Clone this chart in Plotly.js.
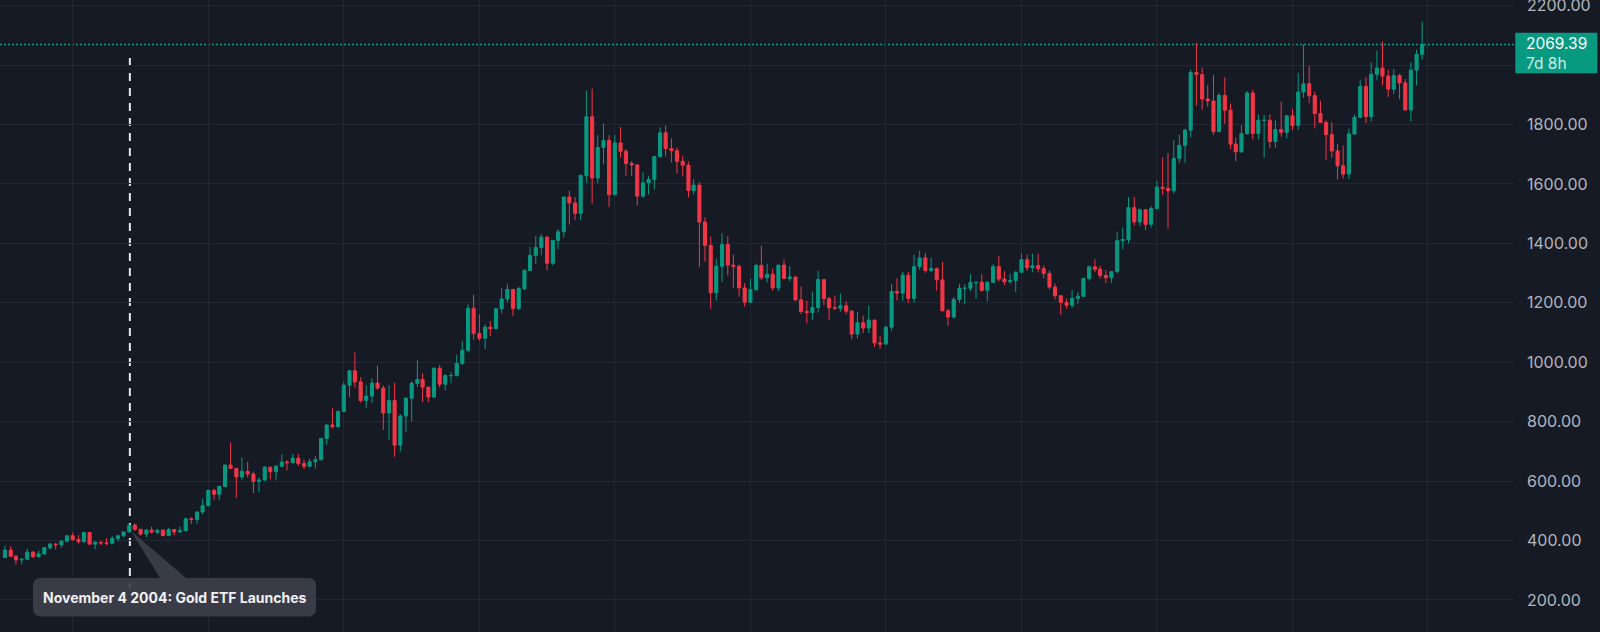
<!DOCTYPE html>
<html>
<head>
<meta charset="utf-8">
<script src="https://cdn.plot.ly/plotly-3.0.1.min.js"></script>
<style>
  html, body { margin: 0; padding: 0; background: #161A25; }
  #chart { width: 1600px; height: 632px; }
</style>
</head>
<body>
<div id="chart"></div>
<script>
// Gold (XAUUSD) monthly candles, Jan 2003 - Dec 2023
const years = [2003,2004,2005,2006,2007,2008,2009,2010,2011,2012,2013,2014,2015,2016,2017,2018,2019,2020,2021,2022,2023];

const opens = [
  343,368,347,335,337,361,346,355,376,388,386,398,
  416,403,397,427,388,394,392,391,407,416,429,452,
  438,422,435,428,435,417,437,429,433,473,471,496,
  517,569,556,582,654,643,614,633,624,599,604,647,
  632,650,664,662,677,659,650,665,672,743,789,783,
  834,923,971,934,871,886,930,913,829,871,721,819,
  879,929,942,916,883,980,926,955,955,996,1040,1182,
  1097,1081,1118,1113,1180,1213,1245,1181,1248,1309,1359,1386,
  1421,1333,1410,1439,1556,1536,1501,1628,1826,1620,1723,1746,
  1564,1738,1710,1669,1664,1559,1604,1615,1692,1772,1719,1712,
  1676,1663,1578,1596,1472,1393,1234,1323,1396,1327,1323,1250,
  1202,1244,1326,1284,1296,1250,1327,1282,1287,1210,1171,1167,
  1184,1278,1214,1183,1182,1190,1172,1095,1133,1115,1142,1065,
  1061,1118,1238,1233,1293,1215,1322,1351,1309,1316,1277,1173,
  1152,1211,1249,1249,1268,1269,1242,1269,1322,1280,1271,1275,
  1303,1345,1318,1325,1315,1299,1253,1224,1201,1192,1215,1222,
  1282,1321,1313,1292,1284,1305,1409,1413,1520,1472,1513,1464,
  1517,1589,1585,1577,1686,1730,1781,1975,1968,1886,1879,1776,
  1898,1848,1734,1708,1769,1906,1770,1814,1814,1743,1783,1774,
  1829,1797,1909,1937,1897,1837,1807,1766,1711,1661,1633,1768,
  1824,1928,1827,1969,1990,1963,1919,1965,1940,1849,1983,2036
];

const highs = [
  383,382,352,341,372,365,366,377,392,392,400,417,
  427,418,430,428,398,398,408,415,420,430,456,457,
  439,439,446,438,437,443,438,447,477,479,498,541,
  569,574,585,655,730,644,679,665,632,612,650,647,
  654,690,670,692,691,672,675,684,745,790,845,839,
  934,975,1033,950,923,945,988,922,923,931,825,882,
  936,1007,963,918,982,990,960,967,1025,1072,1195,1227,
  1162,1127,1139,1181,1249,1265,1246,1254,1313,1388,1425,1432,
  1424,1412,1448,1557,1577,1556,1632,1913,1921,1764,1803,1764,
  1764,1791,1718,1677,1667,1640,1628,1693,1790,1796,1754,1723,
  1694,1676,1617,1606,1488,1423,1348,1434,1424,1362,1328,1267,
  1280,1332,1392,1332,1315,1325,1345,1323,1287,1255,1208,1238,
  1307,1280,1220,1224,1232,1205,1176,1170,1157,1191,1142,1088,
  1123,1263,1283,1304,1304,1362,1375,1367,1352,1319,1338,1180,
  1220,1264,1262,1296,1270,1296,1271,1330,1357,1306,1299,1306,
  1366,1362,1366,1365,1326,1309,1265,1225,1214,1243,1237,1284,
  1326,1347,1324,1310,1306,1439,1453,1555,1557,1517,1515,1525,
  1611,1689,1704,1748,1765,1786,1984,2075,1992,1933,1966,1906,
  1959,1871,1755,1798,1913,1917,1834,1832,1834,1814,1877,1831,
  1853,1974,2070,1998,1910,1880,1814,1808,1735,1730,1786,1833,
  1949,1959,2009,2048,2079,1984,1987,1970,1953,2009,2052,2146
];

const lows = [
  342,345,320,319,336,341,342,353,370,370,376,393,
  399,390,391,386,371,385,385,387,398,411,427,432,
  416,412,424,421,414,414,418,428,432,456,456,489,
  516,538,535,580,640,543,605,612,560,562,600,607,
  603,647,636,661,651,640,648,642,670,723,777,780,
  834,883,915,864,846,863,908,772,738,682,700,765,
  801,916,866,866,879,915,905,930,952,992,1033,1075,
  1072,1044,1088,1112,1165,1201,1155,1175,1242,1307,1331,1360,
  1309,1326,1381,1419,1463,1479,1478,1604,1534,1602,1666,1522,
  1563,1689,1628,1627,1527,1553,1565,1582,1690,1692,1673,1635,
  1626,1555,1565,1321,1338,1180,1208,1270,1292,1251,1221,1187,
  1200,1241,1277,1268,1241,1240,1281,1272,1206,1161,1131,1142,
  1167,1191,1142,1175,1170,1162,1077,1080,1098,1098,1052,1046,
  1061,1106,1208,1207,1200,1200,1310,1301,1302,1241,1171,1123,
  1147,1200,1195,1240,1214,1237,1205,1267,1271,1260,1264,1236,
  1302,1307,1303,1302,1282,1245,1211,1160,1180,1183,1196,1221,
  1275,1303,1281,1266,1267,1300,1381,1400,1459,1458,1445,1453,
  1517,1563,1451,1568,1670,1671,1757,1863,1849,1860,1765,1775,
  1802,1717,1677,1705,1766,1750,1750,1688,1721,1721,1759,1753,
  1781,1781,1890,1872,1787,1805,1681,1688,1615,1618,1616,1765,
  1823,1804,1810,1949,1932,1893,1903,1885,1847,1810,1931,2017
];

const closes = [
  368,347,335,337,361,346,355,376,388,386,398,416,
  403,397,427,388,394,392,391,407,416,429,452,438,
  422,435,428,435,417,437,429,433,473,471,496,517,
  569,556,582,654,643,614,633,624,599,604,647,632,
  650,664,662,677,659,650,665,672,743,789,783,834,
  923,971,934,871,886,930,913,829,871,721,819,879,
  929,942,916,883,980,926,955,955,996,1040,1182,1097,
  1081,1118,1113,1180,1213,1245,1181,1248,1309,1359,1386,1421,
  1333,1410,1439,1556,1536,1501,1628,1826,1620,1723,1746,1564,
  1738,1710,1669,1664,1559,1604,1615,1692,1772,1719,1712,1676,
  1663,1578,1596,1472,1393,1234,1323,1396,1327,1323,1250,1202,
  1244,1326,1284,1296,1250,1327,1282,1287,1210,1171,1167,1184,
  1278,1214,1183,1182,1190,1172,1095,1133,1115,1142,1065,1061,
  1118,1238,1233,1293,1215,1322,1351,1309,1316,1277,1173,1152,
  1211,1249,1249,1268,1269,1242,1269,1322,1280,1271,1275,1303,
  1345,1318,1325,1315,1299,1253,1224,1201,1192,1215,1222,1282,
  1321,1313,1292,1284,1305,1409,1413,1520,1472,1513,1464,1517,
  1589,1585,1577,1686,1730,1781,1975,1968,1886,1879,1776,1898,
  1848,1734,1708,1769,1906,1770,1814,1814,1743,1783,1774,1829,
  1797,1909,1937,1897,1837,1807,1766,1711,1661,1633,1768,1824,
  1928,1827,1969,1990,1963,1919,1965,1940,1849,1983,2036,2069.39
];

// price-axis grid levels; the 2000 label sits under the last-price tag, so it is not shown
const priceLevels = [200,400,600,800,1000,1200,1400,1600,1800,2000,2200];
const hiddenLevel = 2000;

const monthNums = ['01','02','03','04','05','06','07','08','09','10','11','12'];
const months = [];
years.forEach(y => monthNums.forEach(m => months.push(y + '-' + m + '-01')));

const etfDate = '2004-11-04';
const etfLabel = 'November 4 2004: Gold ETF Launches';
const countdown = '7d 8h';
const lastPrice = closes[closes.length - 1];

const W = 1600, H = 632, R = 86;
const PW = W - R;
const px = x => x / PW;
const py = y => 1 - y / H;
const pt = (x, y) => px(x).toFixed(5) + ',' + py(y).toFixed(5);

const UP = '#089981', DN = '#F23645', GRID = '#232733', BG = '#161A25';
const FONT = 'Inter, Roboto, "Noto Sans", sans-serif';

// callout box with pointer (pixel layout -> paper coords)
const bx0 = 33, bx1 = 316, by0 = 578, by1 = 616.5, rr = 8;
const calloutPath =
  'M' + pt(bx0 + rr, by0) + ' L' + pt(160, by0) + ' L' + pt(131, 531) + ' L' + pt(186, by0) +
  ' L' + pt(bx1 - rr, by0) + ' Q' + pt(bx1, by0) + ' ' + pt(bx1, by0 + rr) +
  ' L' + pt(bx1, by1 - rr) + ' Q' + pt(bx1, by1) + ' ' + pt(bx1 - rr, by1) +
  ' L' + pt(bx0 + rr, by1) + ' Q' + pt(bx0, by1) + ' ' + pt(bx0, by1 - rr) +
  ' L' + pt(bx0, by0 + rr) + ' Q' + pt(bx0, by0) + ' ' + pt(bx0 + rr, by0) + ' Z';

const trace = {
  type: 'candlestick',
  x: months, open: opens, high: highs, low: lows, close: closes,
  increasing: { line: { color: UP, width: 1 }, fillcolor: UP },
  decreasing: { line: { color: DN, width: 1 }, fillcolor: DN },
  whiskerwidth: 0,
  hoverinfo: 'skip',
  showlegend: false
};

const layout = {
  width: W, height: H,
  margin: { l: 0, r: R, t: 0, b: 0, pad: 0 },
  paper_bgcolor: BG, plot_bgcolor: BG,
  showlegend: false,
  boxgap: 0.15,
  font: { family: FONT, color: '#B2B5BE' },
  xaxis: {
    type: 'date', range: ['2002-12-05', '2025-04-09'],
    tick0: '2004-01-01', dtick: 'M24',
    showgrid: true, gridcolor: GRID, gridwidth: 1,
    showticklabels: false, ticks: '', zeroline: false, showline: false,
    rangeslider: { visible: false }, fixedrange: true
  },
  yaxis: {
    side: 'right', range: [92.3, 2218.9],
    tickmode: 'array', tickvals: priceLevels,
    ticktext: priceLevels.map(v => v === hiddenLevel ? '' : v.toFixed(2)),
    showgrid: true, gridcolor: GRID, gridwidth: 1,
    ticks: '', ticklabelstandoff: 12, ticklabeloverflow: 'allow',
    zeroline: false, showline: false,
    tickfont: { size: 16, color: '#B2B5BE', family: FONT },
    fixedrange: true
  },
  shapes: [
    { type: 'line', layer: 'between', xref: 'paper', x0: 0, x1: 1, yref: 'y', y0: lastPrice, y1: lastPrice,
      line: { color: UP, width: 1.5, dash: '2px,2px' } },
    { type: 'line', layer: 'between', xref: 'x', x0: etfDate, x1: etfDate, yref: 'paper', y0: py(58), y1: py(589),
      line: { color: '#E6E7EA', width: 2, dash: '8px,7px' } },
    { type: 'path', layer: 'above', xref: 'paper', yref: 'paper', path: calloutPath,
      fillcolor: 'rgba(60,63,74,0.93)', line: { width: 0 } },
    { type: 'rect', layer: 'above', xref: 'paper', yref: 'paper',
      x0: px(1515.3), x1: px(1597.3), y0: py(73.3), y1: py(32.7),
      fillcolor: UP, line: { width: 0 } }
  ],
  annotations: [
    { xref: 'paper', yref: 'paper', x: px(174.5), y: py(597.5), xanchor: 'center', yanchor: 'middle',
      text: '<b>' + etfLabel + '</b>', showarrow: false,
      font: { size: 14, color: '#F0F0F2', family: FONT } },
    { xref: 'paper', yref: 'paper', x: px(1524), y: py(53), xanchor: 'left', yanchor: 'middle',
      align: 'left',
      text: lastPrice.toFixed(2) + '<br><span style="color:rgba(255,255,255,0.82)">' + countdown + '</span>',
      showarrow: false,
      font: { size: 15.5, color: '#FFFFFF', family: FONT } }
  ]
};

Plotly.newPlot('chart', [trace], layout, { displayModeBar: false, staticPlot: true });
</script>
</body>
</html>
